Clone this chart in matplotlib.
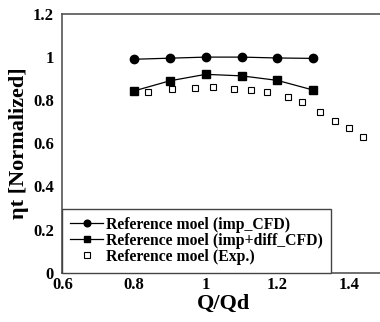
import numpy as np
import matplotlib
matplotlib.use("Agg")
import matplotlib.pyplot as plt

# data
q_cfd = [0.8, 0.9, 1.0, 1.1, 1.2, 1.3]
eta_imp = [0.990, 0.995, 1.000, 1.000, 0.996, 0.994]
eta_imp_diff = [0.843, 0.890, 0.920, 0.913, 0.892, 0.847]

q_exp = [0.84, 0.907, 0.969, 1.02, 1.08, 1.126, 1.17, 1.23, 1.268, 1.319, 1.36, 1.40, 1.44]
eta_exp = [0.839, 0.851, 0.855, 0.860, 0.851, 0.847, 0.837, 0.816, 0.790, 0.747, 0.705, 0.670, 0.628]

labels = ["Reference moel (imp_CFD)",
          "Reference moel (imp+diff_CFD)",
          "Reference moel (Exp.)"]
xticks = [0.6, 0.8, 1.0, 1.2, 1.4]
xticklabels = ["0.6", "0.8", "1", "1.2", "1.4"]
yticks = [0, 0.2, 0.4, 0.6, 0.8, 1.0, 1.2]
yticklabels = ["0", "0.2", "0.4", "0.6", "0.8", "1", "1.2"]

plt.rcParams['font.family'] = ['Liberation Serif', 'DejaVu Serif']
plt.rcParams['font.weight'] = 'bold'

fig = plt.figure(figsize=(3.8, 3.22), dpi=100)
ax = fig.add_axes([0.164, 0.1534, 0.849, 0.8031])

ax.plot(q_cfd, eta_imp, color="black", linewidth=0.9, marker="o",
        markersize=6, label=labels[0])
ax.plot(q_cfd, eta_imp_diff, color="black", linewidth=0.9, marker="s",
        markersize=6, label=labels[1])
ax.plot(q_exp, eta_exp, linestyle="none", marker="s", markersize=5,
        markerfacecolor="white", markeredgecolor="black",
        markeredgewidth=0.8, label=labels[2])

ax.set_xlim(0.6, 1.5)
ax.set_ylim(0, 1.2)
ax.set_xticks(xticks)
ax.set_xticklabels(xticklabels)
ax.set_yticks(yticks)
ax.set_yticklabels(yticklabels)
ax.tick_params(axis="both", length=0, labelsize=12)
ax.tick_params(axis="y", pad=6)
ax.tick_params(axis="x", pad=3)

for s in ax.spines.values():
    s.set_color("#555555")
    s.set_linewidth(1.2)
ax.spines["right"].set_visible(False)

ax.set_xlabel("Q/Qd", fontsize=16, fontweight="bold", labelpad=1)
ax.set_ylabel("ηt [Normalized]", fontsize=16, fontweight="bold", labelpad=3)

leg = ax.legend(loc="lower left", bbox_to_anchor=(0, 0), borderaxespad=0,
                fancybox=False, framealpha=1, edgecolor="#444444",
                prop={"size": 11.3, "weight": "bold"}, markerscale=0.8,
                handlelength=2.1, handletextpad=0.2, labelspacing=0.0,
                borderpad=0.5)
leg.get_frame().set_linewidth(1.0)

fig.savefig("out.png", dpi=100)
